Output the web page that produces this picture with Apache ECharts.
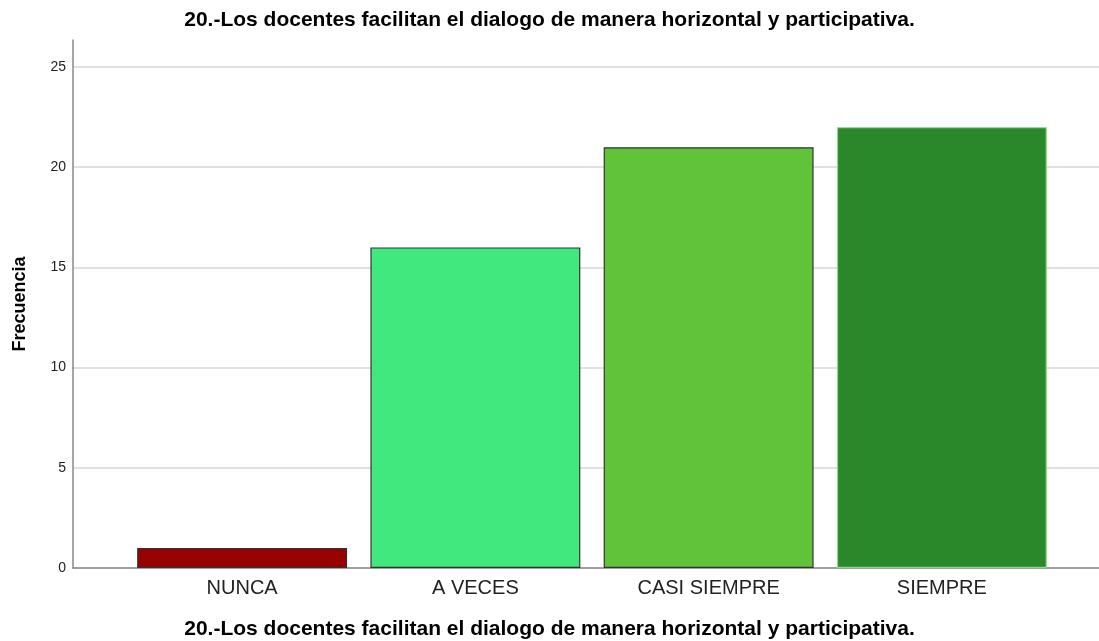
<!DOCTYPE html>
<html>
<head>
<meta charset="utf-8">
<script src="https://cdn.jsdelivr.net/npm/echarts@6/dist/echarts.min.js"></script>
<style>
  html, body { margin: 0; padding: 0; background: #fff; }
  #chart { width: 1099px; height: 641px; }
</style>
</head>
<body>
<div id="chart"></div>
<script>
const titleText = '20.-Los docentes facilitan el dialogo de manera horizontal y participativa.'
const categories = ['NUNCA', 'A VECES', 'CASI SIEMPRE', 'SIEMPRE']
const frecuencia = [1, 16, 21, 22]
const barColors = ['#990000', '#41e87e', '#60c33a', '#2a882a']
const barBorders = ['#333333', '#333333', '#333333', '#8fd48f']

const tickMax = 25
const yMax = 26.35
const font = 'Liberation Sans, Arial, sans-serif'

const myChart = echarts.init(document.getElementById('chart'))

const option = {
    animation: false,
    backgroundColor: '#fff',
    title: [
        {
            text: titleText, left: 'center', top: 5,
            textStyle: { fontFamily: font, fontSize: 21, fontWeight: 'bold', color: '#000' }
        },
        {
            text: titleText, left: 'center', top: 614,
            textStyle: { fontFamily: font, fontSize: 21, fontWeight: 'bold', color: '#000' }
        }
    ],
    grid: [
        // ticks + gridlines, 0..25
        { left: 73, right: 0, top: 67, bottom: 73 },
        // bars, inset like the original
        { left: 125.5, right: 40.5, top: 40, bottom: 73 },
        // axis frame
        { left: 73, right: 0, top: 40, bottom: 73 }
    ],
    xAxis: [
        { gridIndex: 0, type: 'category', data: [''], show: false },
        {
            gridIndex: 1, type: 'category', data: categories,
            axisLine: { show: false }, axisTick: { show: false },
            axisLabel: { fontFamily: font, fontSize: 20, color: '#222', margin: 10 }
        },
        {
            gridIndex: 2, type: 'category', data: [''],
            axisLine: { lineStyle: { color: '#888', width: 1.5 } },
            axisTick: { show: false }, axisLabel: { show: false }
        }
    ],
    yAxis: [
        {
            gridIndex: 0, type: 'value', min: 0, max: tickMax, interval: 5,
            axisLine: { show: false },
            axisTick: { show: false },
            axisLabel: { fontFamily: font, fontSize: 14, color: '#222', margin: 7 },
            splitLine: { show: true, lineStyle: { color: '#d6d6d6', width: 1.5 } }
        },
        {
            gridIndex: 1, type: 'value', min: 0, max: yMax,
            show: false, splitLine: { show: false }
        },
        {
            gridIndex: 2, type: 'value', min: 0, max: yMax,
            name: 'Frecuencia', nameLocation: 'middle', nameGap: 44, nameRotate: 90,
            nameTextStyle: { fontFamily: font, fontSize: 18, fontWeight: 'bold', color: '#000' },
            axisLine: { show: true, lineStyle: { color: '#888', width: 1.5 } },
            axisTick: { show: false }, axisLabel: { show: false },
            splitLine: { show: false }
        }
    ],
    series: [
        {
            type: 'bar', xAxisIndex: 1, yAxisIndex: 1,
            barCategoryGap: '10%',
            data: frecuencia.map((v, i) => ({
                value: v,
                itemStyle: { color: barColors[i], borderColor: barBorders[i], borderWidth: 1.2 }
            }))
        }
    ]
}

myChart.setOption(option)
</script>
</body>
</html>
